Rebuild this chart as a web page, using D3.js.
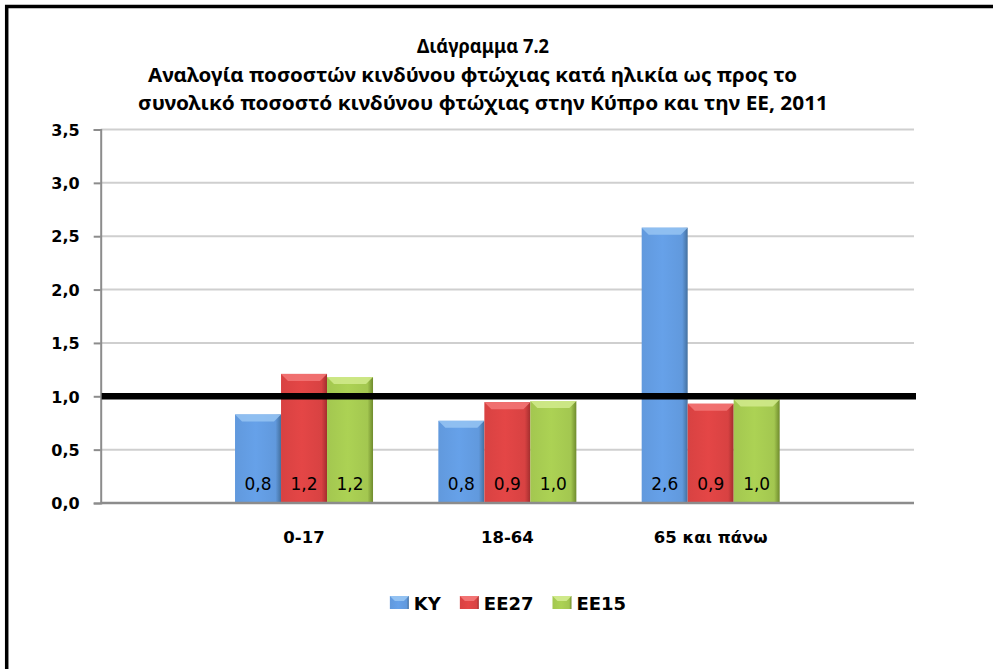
<!DOCTYPE html>
<html>
<head>
<meta charset="utf-8">
<script src="https://cdn.jsdelivr.net/npm/d3@7"></script>
<style>
  html, body { margin: 0; padding: 0; background: #ffffff; }
  svg { display: block; }
</style>
</head>
<body>
<div id="chart"></div>
<script>
// data (empty categories at both ends, axis "on tick marks")
const categories = ["", "0-17", "18-64", "65 και πάνω", ""];
const seriesNames = ["KY", "EE27", "EE15"];
const valuesKY = [null, 0.83, 0.77, 2.58, null];
const valuesEE27 = [null, 1.21, 0.945, 0.93, null];
const valuesEE15 = [null, 1.18, 0.955, 0.97, null];
const yTicks = [0, 0.5, 1.0, 1.5, 2.0, 2.5, 3.0, 3.5];
const referenceValue = 1.0;
const titleLines = [
  "Διάγραμμα 7.2",
  "Αναλογία ποσοστών κινδύνου φτώχιας κατά ηλικία ως προς το",
  "συνολικό ποσοστό κινδύνου φτώχιας στην Κύπρο και την ΕΕ, 2011"
];

const W = 993, H = 669;
const margin = {left: 100.7, right: 79, top: 129.5, bottom: 166};
const plotW = W - margin.left - margin.right;
const plotH = H - margin.top - margin.bottom;

// title layout (centre x, width of each line)
const titleCenters = [483, 472.5, 483];
const titleWidths = [132, 649, 690];

const locale = d3.formatLocale({decimal: ",", thousands: ".", grouping: [3], currency: ["", "€"]});
const fmt = locale.format(".1f");

const colors = {
  KY:   {main: "#6199dd", light: "#93c2f2", dark: "#44709f"},
  EE27: {main: "#d84242", light: "#f27474", dark: "#a32e2e"},
  EE15: {main: "#a3c750", light: "#cfe98a", dark: "#6f8b2d"}
};

const svg = d3.select("#chart")
  .append("svg")
    .attr("width", W)
    .attr("height", H);

// gradients for the bevelled bars
const defs = svg.append("defs");
seriesNames.forEach(name => {
  const c = colors[name];
  const g = defs.append("linearGradient")
      .attr("id", "grad-" + name)
      .attr("x1", "0").attr("x2", "1").attr("y1", "0").attr("y2", "0");
  g.append("stop").attr("offset", "0%").attr("stop-color", c.main);
  g.append("stop").attr("offset", "45%").attr("stop-color", d3.color(c.main).brighter(0.15));
  g.append("stop").attr("offset", "88%").attr("stop-color", c.main);
  g.append("stop").attr("offset", "100%").attr("stop-color", c.dark);
});

// frame
svg.append("rect")
  .attr("x", 6.7)
  .attr("y", 6.5)
  .attr("width", 1000)
  .attr("height", 700)
  .attr("fill", "none")
  .attr("stroke", "#000")
  .attr("stroke-width", 3.5);

// title
svg.append("g")
  .selectAll("text")
  .data(titleLines)
  .enter()
  .append("text")
    .attr("x", (d, i) => titleCenters[i])
    .attr("y", (d, i) => 53 + i * 28.5)
    .attr("text-anchor", "middle")
    .attr("font-family", "'Noto Sans', sans-serif")
    .attr("font-weight", "bold")
    .attr("font-size", "19px")
    .attr("textLength", (d, i) => titleWidths[i])
    .attr("lengthAdjust", "spacingAndGlyphs")
    .attr("fill", "#000")
    .text(d => d);

const g = svg.append("g")
  .attr("transform", `translate(${margin.left},${margin.top})`);

const x0 = d3.scalePoint()
  .domain(d3.range(categories.length))
  .range([0, plotW])
  .padding(0);

const groupW = 138;
const x1 = d3.scaleBand()
  .domain(seriesNames)
  .range([-groupW / 2, groupW / 2])
  .paddingInner(0)
  .paddingOuter(0);

const y = d3.scaleLinear()
  .domain([0, 3.5])
  .range([plotH, 0]);

// gridlines
g.append("g")
  .selectAll("line")
  .data(yTicks.filter(t => t > 0))
  .enter()
  .append("line")
    .attr("x1", 0)
    .attr("x2", plotW)
    .attr("y1", d => y(d))
    .attr("y2", d => y(d))
    .attr("stroke", "#cfcfcf")
    .attr("stroke-width", 2);

// y axis
const yAxis = g.append("g")
  .call(d3.axisLeft(y).tickValues(yTicks).tickSize(7).tickPadding(14).tickFormat(fmt));
yAxis.select(".domain").attr("stroke", "#8c8c8c").attr("stroke-width", 2);
yAxis.selectAll(".tick line").attr("stroke", "#8c8c8c").attr("stroke-width", 2);
yAxis.selectAll(".tick text")
  .attr("font-family", "'DejaVu Sans', sans-serif")
  .attr("font-weight", "bold")
  .attr("font-size", "16px")
  .attr("fill", "#000")
  .attr("dy", "0.36em");

// bars
const rows = categories.map((c, i) => ({
  index: i,
  category: c,
  values: [
    {name: "KY", value: valuesKY[i]},
    {name: "EE27", value: valuesEE27[i]},
    {name: "EE15", value: valuesEE15[i]}
  ].filter(v => v.value !== null)
}));

const groups = g.selectAll(".group")
  .data(rows)
  .enter()
  .append("g")
    .classed("group", true)
    .attr("transform", d => `translate(${x0(d.index)},0)`);

const bar = groups.selectAll(".bar")
  .data(d => d.values)
  .enter()
  .append("g")
    .classed("bar", true);

bar.append("rect")
  .attr("x", d => x1(d.name))
  .attr("y", d => y(d.value))
  .attr("width", x1.bandwidth())
  .attr("height", d => y(0) - y(d.value))
  .attr("fill", d => `url(#grad-${d.name})`);

// top bevel
bar.append("path")
  .attr("d", d => {
    const xl = x1(d.name), xr = xl + x1.bandwidth(), yt = y(d.value);
    return `M${xl},${yt} L${xr},${yt} L${xr - 7},${yt + 7} L${xl + 7},${yt + 7} Z`;
  })
  .attr("fill", d => colors[d.name].light)
  .attr("opacity", 0.9);

// data labels, inside base
bar.append("text")
  .attr("x", d => x1(d.name) + x1.bandwidth() / 2)
  .attr("y", y(0) - 13)
  .attr("text-anchor", "middle")
  .attr("font-family", "'DejaVu Sans', sans-serif")
  .attr("font-size", "17px")
  .attr("fill", "#000")
  .text(d => fmt(Math.round(d.value * 10) / 10));

// x axis baseline
g.append("line")
  .attr("x1", 0)
  .attr("x2", plotW)
  .attr("y1", y(0))
  .attr("y2", y(0))
  .attr("stroke", "#8c8c8c")
  .attr("stroke-width", 2.5);

// category labels
g.append("g")
  .selectAll("text")
  .data(rows.filter(r => r.category !== ""))
  .enter()
  .append("text")
    .attr("x", d => x0(d.index))
    .attr("y", y(0) + 40)
    .attr("text-anchor", "middle")
    .attr("font-family", "'DejaVu Sans', sans-serif")
    .attr("font-weight", "bold")
    .attr("font-size", "16.5px")
    .attr("fill", "#000")
    .text(d => d.category);

// reference line at 1,0
g.append("line")
  .attr("x1", 1)
  .attr("x2", plotW + 2)
  .attr("y1", y(referenceValue))
  .attr("y2", y(referenceValue))
  .attr("stroke", "#000")
  .attr("stroke-width", 6.5);

// legend
const legend = svg.append("g");
const legendItems = legend.selectAll(".legend-item")
  .data(seriesNames)
  .enter()
  .append("g")
    .classed("legend-item", true);
legendItems.append("rect")
  .attr("x", 0)
  .attr("y", -14)
  .attr("width", 19)
  .attr("height", 13)
  .attr("fill", d => `url(#grad-${d})`);
legendItems.append("path")
  .attr("d", "M0,-14 L19,-14 L14,-9 L5,-9 Z")
  .attr("fill", d => colors[d].light);
legendItems.append("text")
  .attr("x", 24)
  .attr("y", 0)
  .attr("font-family", "'DejaVu Sans', sans-serif")
  .attr("font-weight", "bold")
  .attr("font-size", "18px")
  .attr("fill", "#000")
  .text(d => d);

let lx = 0;
legendItems.each(function() {
  const item = d3.select(this);
  item.attr("transform", `translate(${lx},0)`);
  lx += 24 + item.select("text").node().getComputedTextLength() + 19;
});
const legendW = lx - 19;
legend.attr("transform", `translate(${508 - legendW / 2},610)`);
</script>
</body>
</html>
